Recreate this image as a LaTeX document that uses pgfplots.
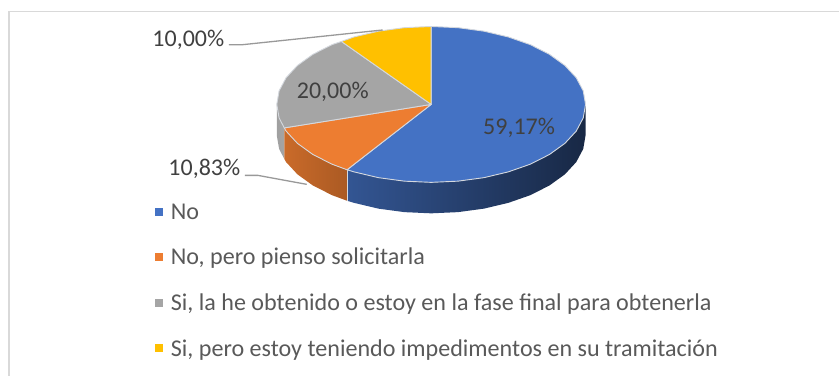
\documentclass[border=0pt]{standalone}
\usepackage{fontspec}
\setmainfont{Carlito}
\usepackage{pgfplots}
\pgfplotsset{compat=1.18}
\definecolor{cBlue}{HTML}{4472C4}
\definecolor{cOrange}{HTML}{ED7D31}
\definecolor{cGray}{HTML}{A5A5A5}
\definecolor{cYellow}{HTML}{FFC000}
\definecolor{edge}{HTML}{D4D8DE}
\pgfplotsset{
  sq/.style={legend image code/.code={\fill[##1,draw=none] (0pt,-4pt) rectangle (8pt,4pt);\path[draw=none,fill=none] (0pt,0pt) -- (16pt,0pt);}},
  face/.style={forget plot,line width=0.9pt,draw=edge,line join=round},
  side/.style={forget plot,draw=none,shade,shading angle=0}
}
\begin{document}
\begin{tikzpicture}
\begin{axis}[
  scale only axis,width=840pt,height=376pt,
  xmin=0,xmax=840,ymin=0,ymax=376,y dir=reverse,
  axis lines=none,clip=false,
  legend style={at={(axis cs:155,204)},anchor=north west,draw=none,fill=none,
    font=\fontsize{24.1pt}{27pt}\selectfont\color[HTML]{595959},
    row sep=27.4pt,inner sep=0pt,outer sep=0pt,
    nodes={inner sep=0pt,outer sep=0pt}},
  legend cell align=left,
]
\path (axis cs:0,0) rectangle (axis cs:840,376);
% frame
\addplot[forget plot,draw=black!15,line width=1.3pt] coordinates {(9,376)(9,11.5)(840,11.5)};
% sides
\addplot[side,left color=gray!75,right color=cGray] coordinates {
 (284.5,128)(279.3,118)(277,104.5)(277,135.5)(279.3,149)(284.5,159)} -- cycle;
\addplot[side,left color=cOrange!85!black,right color=cOrange!72!black] coordinates {
 (347.3,169.9)(332.2,164.3)(313.1,154.6)(297.7,143.5)(286.3,131.2)(284.5,128)
 (284.5,159)(286.3,162.2)(297.7,174.5)(313.1,185.6)(332.2,195.3)(347.3,200.9)} -- cycle;
\addplot[side,left color=cBlue!75!black,middle color=cBlue!48!black,right color=cBlue!35!black] coordinates {
 (586,104.5)(583.7,118)(576.7,131.2)(565.3,143.5)(549.9,154.6)(530.8,164.3)(508.75,172)(484.3,177.8)(458.3,181.3)(431.5,182.5)(404.7,181.3)(378.7,177.8)(354.25,172)(347.3,169.9)
 (347.3,200.9)(354.25,203)(378.7,208.8)(404.7,212.3)(431.5,213.5)(458.3,212.3)(484.3,208.8)(508.75,203)(530.8,195.3)(549.9,185.6)(565.3,174.5)(576.7,162.2)(583.7,149)(586,135.5)} -- cycle;
\addplot[forget plot,draw=edge,line width=0.8pt] coordinates {(347.3,169.9)(347.3,200.9)};
% lower leader
\addplot[forget plot,draw=black!40,line width=1.3pt] coordinates {(245,175.5)(258,175.5)(307,184.5)};
% top faces: 59,17 / 10,83 / 20,00 / 10,00 %
\addplot[face,fill=cBlue] coordinates {(431.5,104.5)(431.5,26.5)(458.3,27.7)(484.3,31.2)(508.75,37)(530.8,44.7)(549.9,54.4)(565.3,65.5)(576.7,77.8)(583.7,91)(586,104.5)(583.7,118)(576.7,131.2)(565.3,143.5)(549.9,154.6)(530.8,164.3)(508.75,172)(484.3,177.8)(458.3,181.3)(431.5,182.5)(404.7,181.3)(378.7,177.8)(354.25,172)(347.3,169.9)} -- cycle;
\addplot[face,fill=cOrange] coordinates {(431.5,104.5)(347.3,169.9)(332.2,164.3)(313.1,154.6)(297.7,143.5)(286.3,131.2)(284.5,128)} -- cycle;
\addplot[face,fill=cGray] coordinates {(431.5,104.5)(284.5,128)(279.3,118)(277,104.5)(279.3,91)(286.3,77.8)(297.7,65.5)(313.1,54.4)(332.2,44.7)(341.7,41.5)} -- cycle;
\addplot[face,fill=cYellow] coordinates {(431.5,104.5)(341.7,41.5)(354.25,37)(378.7,31.2)(404.7,27.7)(431.5,26.5)} -- cycle;
% upper leader
\addplot[forget plot,draw=black!40,line width=1.3pt] coordinates {(229,44.7)(243,44.7)(383,30)};
% labels
\node[text=black!75,font=\fontsize{24pt}{27pt}\selectfont,inner sep=0pt] at (axis cs:188.5,39.5) {10,00\%};
\node[text=black!75,font=\fontsize{24pt}{27pt}\selectfont,inner sep=0pt] at (axis cs:204.5,169) {10,83\%};
\node[text=black!75,font=\fontsize{24pt}{27pt}\selectfont,inner sep=0pt] at (axis cs:333,92) {20,00\%};
\node[text=black!75,font=\fontsize{24pt}{27pt}\selectfont,inner sep=0pt] at (axis cs:519.5,128) {59,17\%};
% legend
\addlegendimage{sq,cBlue}\addlegendentry{No}
\addlegendimage{sq,cOrange}\addlegendentry{No, pero pienso solicitarla}
\addlegendimage{sq,cGray}\addlegendentry{Si, la he obtenido o estoy en la fase final para obtenerla}
\addlegendimage{sq,cYellow}\addlegendentry{Si, pero estoy teniendo impedimentos en su tramitación}
\end{axis}
\end{tikzpicture}
\end{document}
